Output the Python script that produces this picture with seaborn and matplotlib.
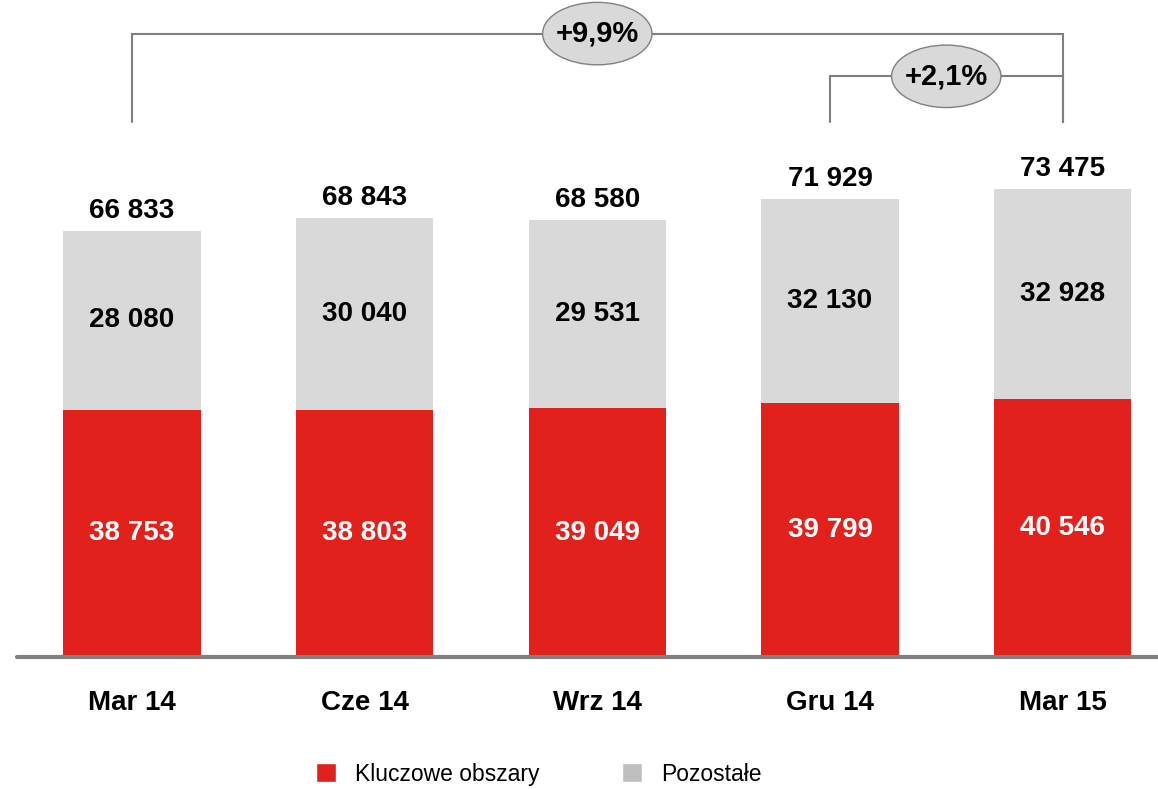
import pandas as pd
import matplotlib.pyplot as plt
import seaborn as sns
from matplotlib.patches import Ellipse, Patch

# data
periods = ['Mar 14', 'Cze 14', 'Wrz 14', 'Gru 14', 'Mar 15']
key_areas = [38753, 38803, 39049, 39799, 40546]
other = [28080, 30040, 29531, 32130, 32928]
totals = [66833, 68843, 68580, 71929, 73475]

RED = '#E3211C'
GRAY = '#D9D9D9'
LINE = '#808080'

df = pd.DataFrame({'okres': periods, 'kluczowe': key_areas, 'pozostale': other})
df['razem'] = df['kluczowe'] + df['pozostale']

sns.set_style('white')
plt.rcParams['font.family'] = ['Liberation Sans', 'DejaVu Sans']
plt.rcParams['text.color'] = 'black'
plt.rcParams['xtick.color'] = 'black'

fig = plt.figure(figsize=(11.58, 7.89), dpi=100)
ax = fig.add_axes([17 / 1158, 132 / 789, 1141 / 1158, 657 / 789])

# stacked bars: total (gray) behind, key areas (red) in front
sns.barplot(data=df, x='okres', y='razem', color=GRAY, width=0.59, saturation=1,
            linewidth=0, ax=ax)
sns.barplot(data=df, x='okres', y='kluczowe', color=RED, width=0.59, saturation=1,
            linewidth=0, ax=ax)

fmt = lambda v: f"{v:,}".replace(',', ' ')
for i in range(len(periods)):
    ax.text(i, key_areas[i] / 2, fmt(key_areas[i]), ha='center', va='center',
            fontsize=20, fontweight='bold', color='white')
    ax.text(i, key_areas[i] + other[i] / 2, fmt(other[i]), ha='center', va='center',
            fontsize=20, fontweight='bold', color='black')
    ax.annotate(fmt(totals[i]), (i, totals[i]), xytext=(0, 5), textcoords='offset points',
                ha='center', va='bottom', fontsize=20, fontweight='bold', color='black')

ax.set_xlim(-0.494, 4.41)
ax.set_ylim(0, 103070)
ax.set_xlabel('')
ax.set_ylabel('')
ax.set_yticks([])
for s in ['top', 'right', 'left']:
    ax.spines[s].set_visible(False)
ax.spines['bottom'].set_color(LINE)
ax.spines['bottom'].set_linewidth(3)
ax.spines['bottom'].set_capstyle('round')
ax.tick_params(axis='x', length=0, pad=24, labelsize=20, labelcolor='black')
for t in ax.get_xticklabels():
    t.set_fontweight('bold')

# growth brackets
def bracket(x0, x1, y, y_low, label, xc):
    ax.plot([x0, x0, x1, x1], [y_low, y, y, y_low], color=LINE, lw=1.5,
            clip_on=False, solid_joinstyle='miter', zorder=1)
    ax.add_patch(Ellipse((xc, y), 0.47, 9800, facecolor=GRAY, edgecolor=LINE,
                         lw=1, clip_on=False, zorder=2))
    ax.text(xc, y, label, ha='center', va='center', fontsize=21,
            fontweight='bold', color='black', zorder=3)

bracket(0, 4, 97800, 84000, '+9,9%', 2)
bracket(3, 4, 91100, 84000, '+2,1%', 3.5)

handles = [Patch(facecolor=RED, label='Kluczowe obszary'),
           Patch(facecolor='#BFBFBF', label='Pozostałe')]
fig.legend(handles=handles, loc='center', bbox_to_anchor=(0.465, 0.019), ncol=2,
           frameon=False, fontsize=16.5, handlelength=0.9, handleheight=0.9,
           handletextpad=0.8, columnspacing=3.6, labelcolor='black')

fig.savefig('out.png', dpi=100)
